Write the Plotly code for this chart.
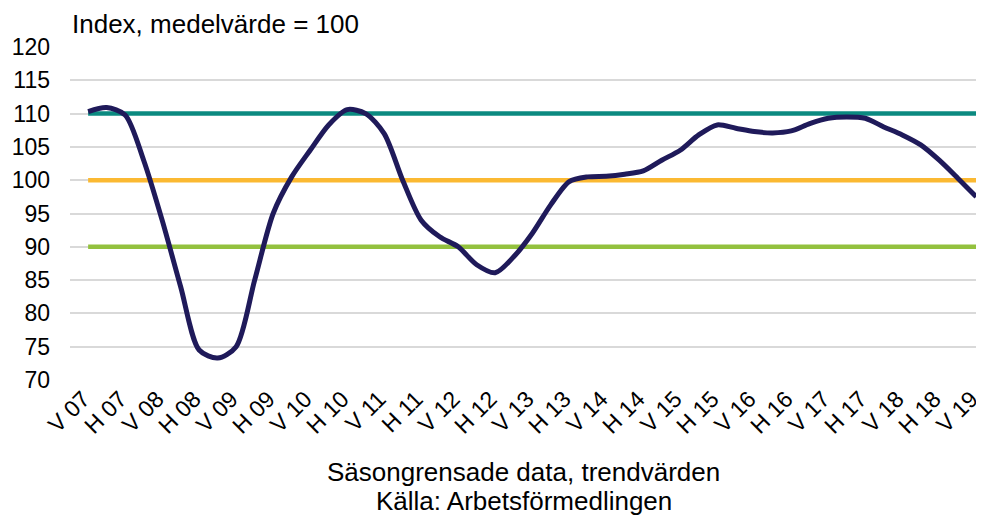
import plotly.graph_objects as go

labels = ["V 07", "H 07", "V 08", "H 08", "V 09", "H 09", "V 10", "H 10", "V 11",
          "H 11", "V 12", "H 12", "V 13", "H 13", "V 14", "H 14", "V 15", "H 15",
          "V 16", "H 16", "V 17", "H 17", "V 18", "H 18", "V 19"]

# position (in half-year steps) and index value of the trend series, read at quarter-year steps
pos = [i * 0.5 for i in range(49)]
index_values = [110.3, 110.9, 109.8, 103.0, 94.0, 84.0, 74.5, 73.3, 75.0, 85.0,
                95.0, 100.5, 104.5, 108.3, 110.6, 110.0, 107.0, 100.0, 94.0, 91.5,
                90.0, 87.3, 86.1, 88.5, 92.0, 96.3, 99.8, 100.5, 100.6, 100.9,
                101.4, 103.0, 104.5, 106.8, 108.3, 107.8, 107.3, 107.1, 107.4, 108.5,
                109.3, 109.5, 109.3, 108.0, 106.8, 105.3, 103.0, 100.3, 97.5]

level_high = [110] * len(labels)
level_mid = [100] * len(labels)
level_low = [90] * len(labels)

title_text = "Index, medelvärde = 100"
footer_lines = ["Säsongrensade data, trendvärden", "Källa: Arbetsförmedlingen"]

xcat = list(range(len(labels)))

fig = go.Figure()
fig.add_trace(go.Scatter(x=xcat, y=level_high, mode="lines",
                         line=dict(color="#0b8a80", width=4.5), hoverinfo="skip"))
fig.add_trace(go.Scatter(x=xcat, y=level_mid, mode="lines",
                         line=dict(color="#fbb932", width=4.5), hoverinfo="skip"))
fig.add_trace(go.Scatter(x=xcat, y=level_low, mode="lines",
                         line=dict(color="#93c13e", width=4.5), hoverinfo="skip"))
fig.add_trace(go.Scatter(x=pos, y=index_values, mode="lines",
                         line=dict(color="#1f1a5a", width=5, shape="spline", smoothing=0.8)))

font_family = "Liberation Sans, Arial, sans-serif"

annotations = [
    dict(text=title_text, xref="paper", yref="paper",
         x=0, y=1, xanchor="left", yanchor="bottom", yshift=6,
         showarrow=False, font=dict(size=26)),
]
for k, line in enumerate(footer_lines):
    annotations.append(dict(text=line, xref="paper", yref="paper", x=0.5, y=0,
                            xanchor="center", yanchor="middle", yshift=-92 - 29 * k,
                            showarrow=False, font=dict(size=26)))

# page body has an 8px margin, so the figure is sized 8px smaller
fig.update_layout(
    width=976, height=508,
    margin=dict(l=62, r=7, t=39, b=136),
    paper_bgcolor="white", plot_bgcolor="white",
    showlegend=False,
    font=dict(family=font_family, size=23, color="#000000"),
    xaxis=dict(
        range=[-0.49, 24.02], automargin=False,
        tickmode="array", tickvals=xcat, ticktext=labels,
        tickangle=-45, showgrid=False, zeroline=False, showline=False,
        ticks="", tickfont=dict(size=23), ticklabeloverflow="allow",
        ticklabelshift=-5,
    ),
    yaxis=dict(
        range=[70, 120], dtick=5, tick0=70, automargin=False,
        showgrid=True, gridcolor="#d9d9d9", gridwidth=2,
        zeroline=False, showline=False, ticks="",
        tickfont=dict(size=23), ticklabelstandoff=19,
    ),
    annotations=annotations,
)

fig.write_html("out.html")
